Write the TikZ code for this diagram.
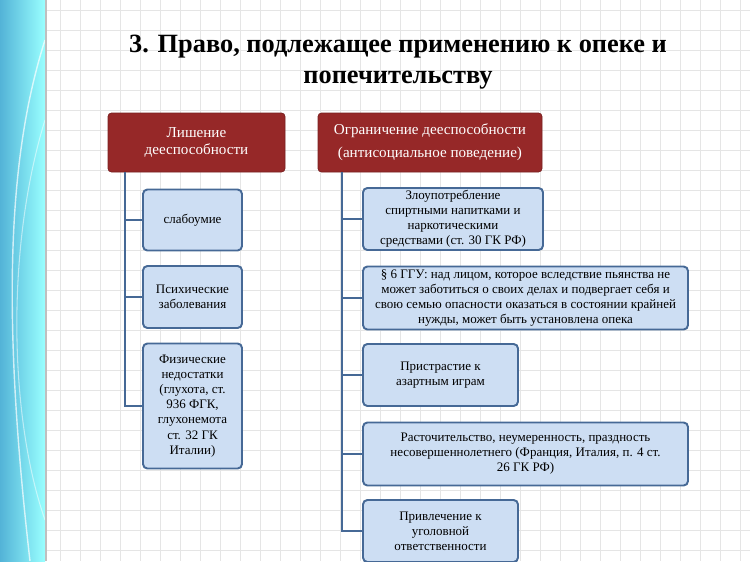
\documentclass[tikz,border=0pt]{standalone}
\usepackage{fontspec}
\setmainfont{Liberation Serif}
\definecolor{headred}{RGB}{150,40,40}
\definecolor{itemfill}{RGB}{205,222,243}
\definecolor{itemline}{RGB}{70,105,150}
\definecolor{stripblue}{RGB}{40,160,205}
\begin{document}
\begin{tikzpicture}[x=0.02cm,y=-0.02cm,
  head/.style={rectangle, rounded corners=2pt, draw=headred!80!black, fill=headred, text=white, align=center, font=\fontsize{8.6}{10.2}\selectfont, inner sep=1pt},
  item/.style={rectangle, rounded corners=2.5pt, draw=itemline, line width=1.1pt, fill=itemfill, align=center, font=\fontsize{7.4}{8.6}\selectfont, inner sep=1pt},
  link/.style={draw=itemline, line width=1.2pt}
]
\useasboundingbox (0,0) rectangle (750,561);
% background grid and side strip
\fill[white] (0,0) rectangle (750,561);
\foreach \gx in {60,80,...,740} \draw[black!10, line width=0.4pt] (\gx,0) -- (\gx,561);
\foreach \gy in {10,30,...,550} \draw[black!10, line width=0.4pt] (45,\gy) -- (750,\gy);
\shade[left color=stripblue!80, right color=cyan!40] (0,0) rectangle (45,561);
\draw[white, opacity=0.7, line width=0.8pt] (45,40) .. controls (10,150) and (0,300) .. (30,561);
\draw[white, opacity=0.5, line width=0.6pt] (45,120) .. controls (5,250) and (10,420) .. (45,520);
\fill[black!25] (45,0) rectangle (47,561);
% title
\node[font=\bfseries\fontsize{15}{17.5}\selectfont, align=center] (title) at (398,62) {3. Право, подлежащее применению к опеке и\\попечительству};
% heads
\node[head, minimum width=177*0.02cm, minimum height=59*0.02cm] (depr) at (196.5,142.5) {Лишение\\дееспособности};
\node[head, minimum width=224*0.02cm, minimum height=59*0.02cm] (restr) at (430,142.5) {Ограничение дееспособности\\[3pt](антисоциальное поведение)};
% left items
\node[item, minimum width=99*0.02cm, minimum height=61*0.02cm] (weak) at (192.5,220) {слабоумие};
\node[item, minimum width=99*0.02cm, minimum height=62*0.02cm] (mental) at (192.5,297) {Психические\\заболевания};
\node[item, minimum width=99*0.02cm, minimum height=125*0.02cm] (phys) at (192.5,406) {Физические\\недостатки\\(глухота, ст.\\936 ФГК,\\глухонемота\\ст. 32 ГК\\Италии)};
% right items
\node[item, minimum width=180*0.02cm, minimum height=62*0.02cm] (abuse) at (453,219) {Злоупотребление\\спиртными напитками и\\наркотическими\\средствами (ст. 30 ГК РФ)};
\node[item, minimum width=325*0.02cm, minimum height=63*0.02cm] (para) at (525.5,298) {§ 6 ГГУ: над лицом, которое вследствие пьянства не\\может заботиться о своих делах и подвергает себя и\\свою семью опасности оказаться в состоянии крайней\\нужды, может быть установлена опека};
\node[item, minimum width=155*0.02cm, minimum height=62*0.02cm] (gamb) at (440.5,375) {Пристрастие к\\азартным играм};
\node[item, minimum width=325*0.02cm, minimum height=63*0.02cm] (waste) at (525.5,454) {Расточительство, неумеренность, праздность\\несовершеннолетнего (Франция, Италия, п. 4 ст.\\26 ГК РФ)};
\node[item, minimum width=155*0.02cm, minimum height=62*0.02cm] (crime) at (440.5,531) {Привлечение к\\уголовной\\ответственности};
% connectors
\coordinate (lt) at (125,172);
\coordinate (rt) at (342,172);
\foreach \n in {weak,mental,phys}
  \draw[link] (lt) |- (\n.west);
\foreach \n in {abuse,para,gamb,waste,crime}
  \draw[link] (rt) |- (\n.west);
\end{tikzpicture}
\end{document}
